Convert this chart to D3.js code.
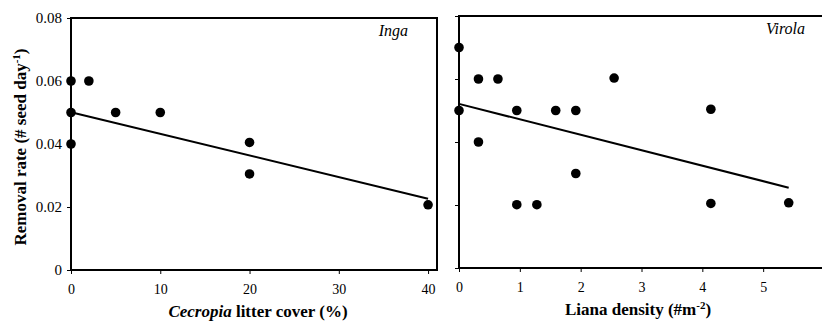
<!DOCTYPE html>
<html>
<head>
<meta charset="utf-8">
<script src="https://cdn.jsdelivr.net/npm/d3@7"></script>
<style>
  html, body { margin: 0; padding: 0; background: #fff; }
  svg { display: block; }
</style>
</head>
<body>
<svg id="chart" width="822" height="322"></svg>
<script>
// Inga: removal rate vs Cecropia litter cover (%)
const ingaCover = [0, 2, 0, 5, 10, 0, 20, 20, 40];
const ingaRate  = [0.06, 0.06, 0.05, 0.05, 0.05, 0.04, 0.0405, 0.0305, 0.0207];
const ingaFitX  = [0, 40];
const ingaFitY  = [0.0501, 0.0226];

// Virola: removal rate vs liana density (#/m2)
const lianaDensity = [0, 0.32, 0.64, 2.55, 0, 0.95, 1.59, 1.92, 4.14, 0.32, 1.92, 0.95, 1.28, 4.14, 5.42];
const virolaRate   = [0.070, 0.060, 0.060, 0.0603, 0.050, 0.050, 0.050, 0.050, 0.0504, 0.040, 0.030, 0.0201, 0.0201, 0.0205, 0.0207];
const virolaFitX   = [0, 5.42];
const virolaFitY   = [0.0521, 0.0255];

const rateTicks   = [0, 0.02, 0.04, 0.06, 0.08];
const rateLabels  = ["0", "0.02", "0.04", "0.06", "0.08"];
const coverTicks  = [0, 10, 20, 30, 40];
const lianaTicks  = [0, 1, 2, 3, 4, 5, 6];
const lianaLabels = ["0", "1", "2", "3", "4", "5", ""];

const FONT = "'Liberation Serif', 'Times New Roman', Times, 'DejaVu Serif', serif";
const svg = d3.select("#chart").style("font-family", FONT);

function panel(opts) {
  const g = svg.append("g");
  const x = d3.scaleLinear().domain(opts.xDomain).range(opts.xRange);
  const y = d3.scaleLinear().domain([0, 0.08]).range(opts.yRange);

  // y axis ticks
  const yAxis = d3.axisLeft(y).tickValues(rateTicks).tickSize(4).tickPadding(5)
    .tickFormat(opts.yLabels ? (d, i) => rateLabels[i] : () => "");
  const ya = g.append("g").attr("transform", `translate(${opts.xRange[0]},0)`).call(yAxis);
  ya.attr("font-family", null).attr("font-size", null);
  ya.selectAll("text").style("font-family", FONT).style("font-size", "15px");
  ya.select(".domain").remove();
  ya.selectAll("line").attr("stroke", "#000").attr("stroke-width", 1);

  // x axis ticks
  const xAxis = d3.axisBottom(x).tickValues(opts.xTicks).tickSize(4).tickPadding(10)
    .tickFormat((d, i) => opts.xLabels[i]);
  const xa = g.append("g").attr("transform", `translate(0,${opts.yRange[0]})`).call(xAxis);
  xa.attr("font-family", null).attr("font-size", null);
  xa.selectAll("text").style("font-family", FONT).style("font-size", "14px");
  xa.select(".domain").remove();
  xa.selectAll("line").attr("stroke", "#000").attr("stroke-width", 1);

  // frame
  g.append("rect")
    .attr("x", opts.xRange[0]).attr("y", opts.yRange[1])
    .attr("width", opts.xRange[1] - opts.xRange[0])
    .attr("height", opts.yRange[0] - opts.yRange[1])
    .attr("fill", "none").attr("stroke", "#000").attr("stroke-width", 2);

  // fitted line
  const fit = opts.fitX.map((v, i) => [v, opts.fitY[i]]);
  g.append("path")
    .attr("d", d3.line().x(d => x(d[0])).y(d => y(d[1]))(fit))
    .attr("fill", "none").attr("stroke", "#000").attr("stroke-width", 2);

  // points
  g.selectAll("circle.pt")
    .data(opts.px.map((v, i) => [v, opts.py[i]]))
    .join("circle")
    .attr("class", "pt")
    .attr("cx", d => x(d[0])).attr("cy", d => y(d[1]))
    .attr("r", 4.8).attr("fill", "#000");

  // species label
  g.append("text")
    .attr("x", opts.labelX).attr("y", opts.yRange[1] + 18)
    .attr("text-anchor", "end")
    .style("font-family", FONT).style("font-size", "16px").style("font-style", "italic")
    .text(opts.species);

  return { g, x, y };
}

panel({
  xDomain: [0, 41], xRange: [71, 437], yRange: [270, 18],
  xTicks: coverTicks, xLabels: coverTicks.map(String), yLabels: true,
  px: ingaCover, py: ingaRate, fitX: ingaFitX, fitY: ingaFitY,
  species: "Inga", labelX: 408
});

panel({
  xDomain: [0, 6], xRange: [459, 824], yRange: [268, 16],
  xTicks: lianaTicks, xLabels: lianaLabels, yLabels: false,
  px: lianaDensity, py: virolaRate, fitX: virolaFitX, fitY: virolaFitY,
  species: "Virola", labelX: 805
});

// axis titles
const xt1 = svg.append("text")
  .attr("x", 258).attr("y", 317).attr("text-anchor", "middle")
  .style("font-family", FONT).style("font-size", "17px").style("font-weight", "bold");
xt1.append("tspan").style("font-style", "italic").text("Cecropia");
xt1.append("tspan").text(" litter cover (%)");

const xt2 = svg.append("text")
  .attr("x", 638).attr("y", 315).attr("text-anchor", "middle")
  .style("font-family", FONT).style("font-size", "17px").style("font-weight", "bold");
xt2.append("tspan").text("Liana density (#m");
xt2.append("tspan").attr("dy", -6).style("font-size", "11px").text("-2");
xt2.append("tspan").attr("dy", 6).text(")");

const yt = svg.append("text")
  .attr("transform", "translate(26,147) rotate(-90)")
  .attr("text-anchor", "middle")
  .style("font-family", FONT).style("font-size", "17px").style("font-weight", "bold");
yt.append("tspan").text("Removal rate (# seed day");
yt.append("tspan").attr("dy", -6).style("font-size", "11px").text("-1");
yt.append("tspan").attr("dy", 6).text(")");
</script>
</body>
</html>
